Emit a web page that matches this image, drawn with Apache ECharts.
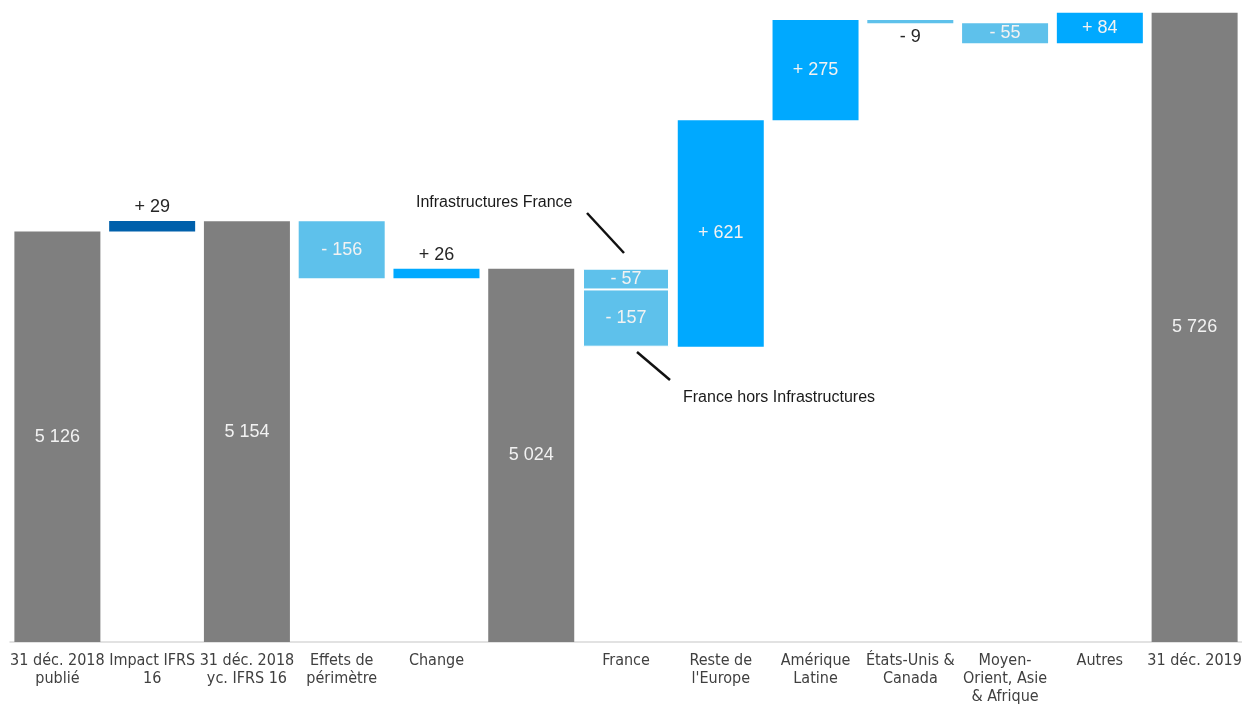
<!DOCTYPE html>
<html>
<head>
<meta charset="utf-8">
<script src="https://cdn.jsdelivr.net/npm/echarts@6/dist/echarts.min.js"></script>
<style>
  * { margin: 0; padding: 0; }
  html, body { background: #fff; }
  #chart { width: 1242px; height: 705px; }
</style>
</head>
<body>
<div id="chart"></div>
<script>
const categories = [
  "31 déc. 2018\npublié", "Impact IFRS\n16", "31 déc. 2018\nyc. IFRS 16", "Effets de\npérimètre",
  "Change", "", "France", "Reste de\nl'Europe", "Amérique\nLatine", "États-Unis &\nCanada",
  "Moyen-\nOrient, Asie\n& Afrique", "Autres", "31 déc. 2019"
];
// totals (gray bars)
const totals = [5126, "-", 5154, "-", "-", 5024, "-", "-", "-", "-", "-", "-", 5726];
// variations: first step
const deltas = ["-", 29, "-", -156, 26, "-", -57, 621, 275, -9, -55, 84, "-"];
// second step (France hors Infrastructures)
const deltasSub = ["-", "-", "-", "-", "-", "-", -157, "-", "-", "-", "-", "-", "-"];
const barColors = ["#7f7f7f", "#0060ab", "#7f7f7f", "#5ec1eb", "#00a9ff", "#7f7f7f", "#5ec1eb",
  "#00a9ff", "#00a9ff", "#5ec1eb", "#5ec1eb", "#00a9ff", "#7f7f7f"];
const labelPos = ["inside", "top", "inside", "inside", "top", "inside", "inside",
  "inside", "inside", "bottom", "inside", "inside", "inside"];

const fmtTotal = v => String(v).replace(/\B(?=(\d{3})+(?!\d))/g, " ");
const fmtDelta = v => (v > 0 ? "+ " : "- ") + Math.abs(v);

// build waterfall stack
let level = 0;
const base = [], lower = [], upper = [];
categories.forEach((c, i) => {
  if (totals[i] !== "-") {
    level = totals[i];
    base.push("-");
    lower.push({ value: totals[i], label: { position: "inside", formatter: fmtTotal(totals[i]) } });
    upper.push("-");
    return;
  }
  const d1 = deltas[i];
  const d2 = deltasSub[i] === "-" ? 0 : deltasSub[i];
  const next = level + d1 + d2;
  base.push(Math.min(level, next));
  const outside = labelPos[i] !== "inside";
  const lbl = (v) => ({
    position: labelPos[i],
    formatter: fmtDelta(v),
    color: outside ? "#262626" : "#f2f2f2"
  });
  if (d2) {
    // negative double step: later step sits at the bottom, white gap between
    const gap = { borderColor: "#ffffff", borderWidth: 1 };
    lower.push({ value: Math.abs(d2), label: lbl(d2), itemStyle: gap });
    upper.push({ value: Math.abs(d1), label: lbl(d1), itemStyle: gap });
  } else {
    lower.push({ value: Math.abs(d1), label: lbl(d1) });
    upper.push("-");
  }
  level = next;
});

const chart = echarts.init(document.getElementById("chart"), null, { renderer: "canvas" });

const segStyle = {
  color: (p) => barColors[p.dataIndex]
};
const segLabel = {
  show: true,
  fontFamily: "Liberation Sans, Arial, sans-serif",
  fontSize: 18,
  color: "#f2f2f2",
  distance: 5
};

chart.setOption({
  animation: false,
  grid: { left: 10, right: 0, top: 4, bottom: 63, outerBoundsMode: "none" },
  xAxis: {
    type: "category",
    data: categories,
    axisLine: { lineStyle: { color: "#d9d9d9", width: 1.5 } },
    axisTick: { show: false },
    axisLabel: {
      interval: 0,
      color: "#404040",
      fontFamily: "Liberation Sans Narrow, Arial Narrow, DejaVu Sans Condensed, sans-serif",
      fontSize: 16,
      lineHeight: 18,
      margin: 10
    }
  },
  yAxis: {
    type: "value",
    min: 4000,
    max: 5750,
    show: false,
    splitLine: { show: false }
  },
  series: [
    {
      name: "base",
      type: "bar",
      stack: "wf",
      barWidth: 86,
      itemStyle: { color: "transparent" },
      emphasis: { disabled: true },
      data: base
    },
    {
      name: "lower",
      type: "bar",
      stack: "wf",
      barWidth: 86,
      itemStyle: segStyle,
      label: segLabel,
      data: lower
    },
    {
      name: "upper",
      type: "bar",
      stack: "wf",
      barWidth: 86,
      itemStyle: segStyle,
      label: segLabel,
      data: upper
    }
  ],
  graphic: [
    {
      type: "text", left: 416, top: 195,
      style: { text: "Infrastructures France", fontFamily: "Liberation Sans, Arial, sans-serif", fontSize: 16, fill: "#1a1a1a" }
    },
    {
      type: "line",
      shape: { x1: 587, y1: 213, x2: 624, y2: 253 },
      style: { stroke: "#111", lineWidth: 2.5 }
    },
    {
      type: "text", left: 683, top: 390,
      style: { text: "France hors Infrastructures", fontFamily: "Liberation Sans, Arial, sans-serif", fontSize: 16, fill: "#1a1a1a" }
    },
    {
      type: "line",
      shape: { x1: 637, y1: 352, x2: 670, y2: 380 },
      style: { stroke: "#111", lineWidth: 2.5 }
    }
  ]
});

window.addEventListener("resize", chart.resize);
</script>
</body>
</html>
